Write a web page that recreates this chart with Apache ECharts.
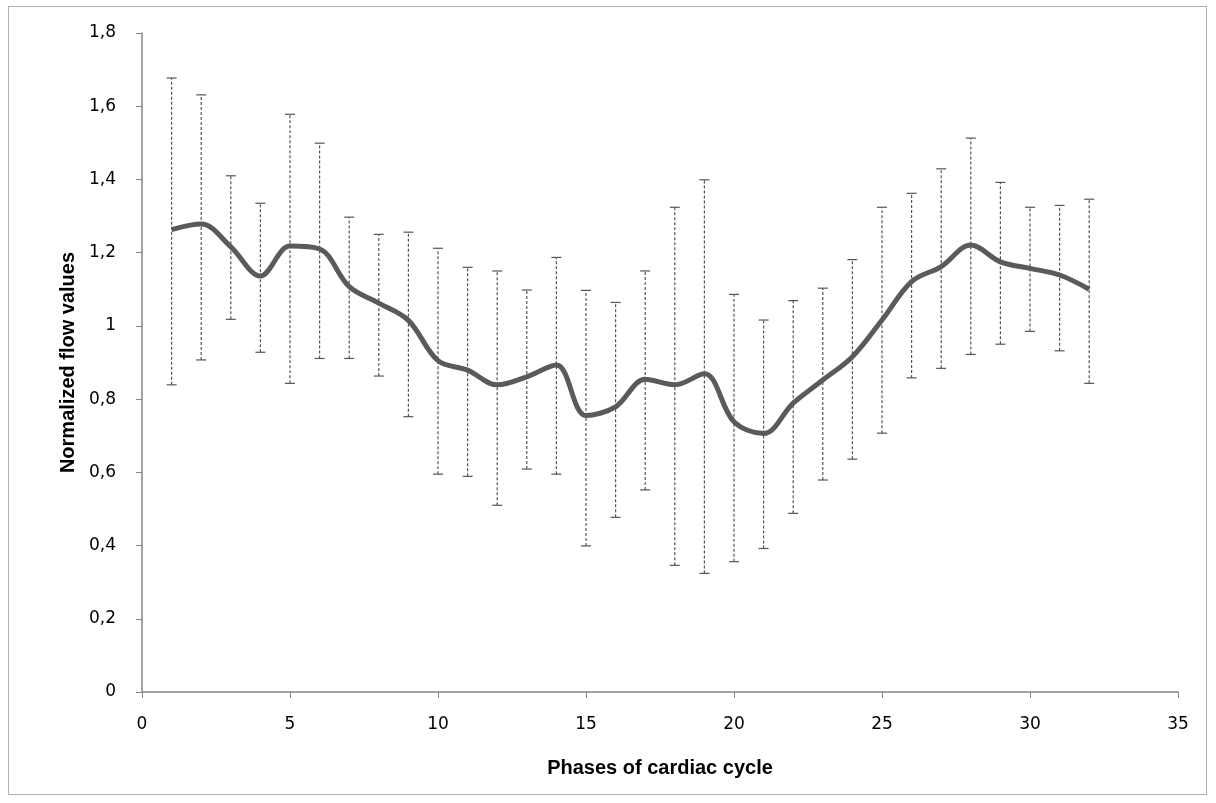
<!DOCTYPE html>
<html>
<head>
<meta charset="utf-8">
<script src="https://cdn.jsdelivr.net/npm/echarts@6/dist/echarts.min.js"></script>
<style>
html,body{margin:0;padding:0;background:#fff;}
#frame{position:absolute;left:8px;top:6px;width:1199px;height:789px;border:1px solid #b0b0b0;box-sizing:border-box;}
#chart{position:absolute;left:0;top:0;width:1216px;height:803px;}
</style>
</head>
<body>
<div id="frame"></div>
<div id="chart"></div>
<script>
const phases = [1,2,3,4,5,6,7,8,9,10,11,12,13,14,15,16,17,18,19,20,21,22,23,24,25,26,27,28,29,30,31,32];
const meanValues = [1.263,1.278,1.216,1.136,1.218,1.210,1.107,1.062,1.015,0.905,0.879,0.839,0.861,0.893,0.755,0.779,0.854,0.839,0.869,0.738,0.706,0.789,0.852,0.916,1.016,1.121,1.162,1.221,1.175,1.157,1.139,1.100];
const upperValues = [1.677,1.631,1.410,1.335,1.578,1.499,1.297,1.250,1.256,1.212,1.160,1.150,1.098,1.187,1.097,1.064,1.150,1.324,1.399,1.086,1.016,1.069,1.103,1.181,1.324,1.362,1.429,1.513,1.392,1.324,1.329,1.346];
const lowerValues = [0.839,0.907,1.018,0.928,0.843,0.911,0.911,0.863,0.752,0.595,0.589,0.510,0.609,0.595,0.399,0.477,0.552,0.346,0.324,0.356,0.392,0.488,0.579,0.636,0.707,0.858,0.884,0.922,0.950,0.985,0.932,0.843];
const xTitle = 'Phases of cardiac cycle';
const yTitle = 'Normalized flow values';

const lineData = phases.map((p,i)=>[p, meanValues[i]]);
const errData = phases.map((p,i)=>[p, lowerValues[i], upperValues[i]]);

const chart = echarts.init(document.getElementById('chart'));
const axisColor = '#868686';
const labelFont = {color:'#000', fontFamily:'DejaVu Sans, Verdana, sans-serif', fontSize:17};
const titleFont = {color:'#000',fontFamily:'Liberation Sans Narrow, Arial Narrow, Liberation Sans, sans-serif',fontWeight:'bold',fontSize:20};
chart.setOption({
  animation:false,
  backgroundColor:'transparent',
  grid:{left:142,right:38,top:33,bottom:111},
  xAxis:{
    type:'value', min:0, max:35, interval:5,
    name:xTitle, nameLocation:'middle', nameGap:66,
    nameTextStyle:titleFont,
    axisLine:{lineStyle:{color:axisColor,width:1.5}},
    axisTick:{show:true,length:6,lineStyle:{color:axisColor}},
    axisLabel:Object.assign({margin:24},labelFont),
    splitLine:{show:false}
  },
  yAxis:{
    type:'value', min:0, max:1.8, interval:0.2,
    name:yTitle, nameLocation:'middle', nameGap:64, nameRotate:90,
    nameTextStyle:titleFont,
    axisLine:{show:true,lineStyle:{color:axisColor,width:1.5}},
    axisTick:{show:true,length:6,lineStyle:{color:axisColor}},
    axisLabel:Object.assign({margin:26,formatter:v=>{const r=Math.round(v*10)/10;return String(r).replace('.',',');}},labelFont),
    splitLine:{show:false}
  },
  series:[
    {
      type:'custom',
      data:errData,
      z:1,
      renderItem:function(params,api){
        const x=api.value(0), lo=api.value(1), hi=api.value(2);
        const pLo=api.coord([x,lo]), pHi=api.coord([x,hi]);
        const style={stroke:'#555',lineWidth:1.2,lineDash:[3,2]};
        const cap={stroke:'#555',lineWidth:1.2};
        const hw=5;
        return {type:'group',children:[
          {type:'line',shape:{x1:pLo[0],y1:pLo[1],x2:pHi[0],y2:pHi[1]},style:style},
          {type:'line',shape:{x1:pLo[0]-hw,y1:pLo[1],x2:pLo[0]+hw,y2:pLo[1]},style:cap},
          {type:'line',shape:{x1:pHi[0]-hw,y1:pHi[1],x2:pHi[0]+hw,y2:pHi[1]},style:cap}
        ]};
      }
    },
    {
      type:'line',
      data:lineData,
      smooth:0.35,
      symbol:'none',
      z:2,
      lineStyle:{color:'#5a5a5a',width:5}
    }
  ]
});
</script>
</body>
</html>
